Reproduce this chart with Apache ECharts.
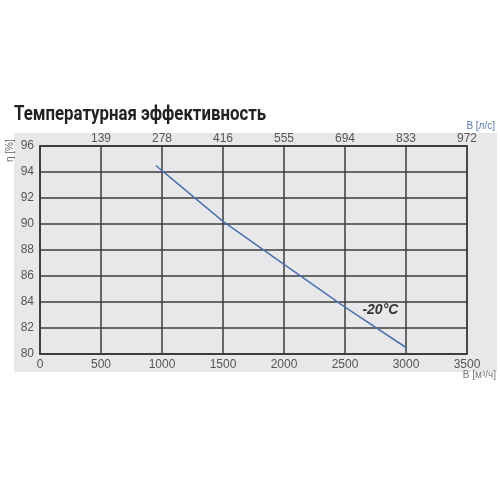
<!DOCTYPE html>
<html>
<head>
<meta charset="utf-8">
<script src="https://cdn.jsdelivr.net/npm/echarts@6/dist/echarts.min.js"></script>
<style>
  html, body { margin: 0; padding: 0; background: #fff; }
  #main { width: 500px; height: 500px; }
</style>
</head>
<body>
<div id="main"></div>
<script>
// расход, м3/ч -> эффективность, %
var flowM3h = [950, 1000, 1500, 2000, 2500, 3000];
var efficiency = [94.5, 94.1, 90.2, 86.9, 83.6, 80.5];
var topLabels = ['', '139', '278', '416', '555', '694', '833', '972'];
var seriesName = '-20°C';

var myChart = echarts.init(document.getElementById('main'));

var lineData = flowM3h.map(function (x, i) { return [x, efficiency[i]]; });
var labelFont = 'Liberation Sans, sans-serif';

var option = {
    animation: false,
    graphic: [
        {
            type: 'rect',
            z: -10,
            shape: { x: 14, y: 133, width: 483, height: 239 },
            style: { fill: '#e8e8ea' }
        },
        {
            type: 'text',
            x: 14,
            y: 105,
            scaleX: 0.84,
            style: {
                text: 'Температурная эффективность',
                fontFamily: 'Roboto, sans-serif',
                fontSize: 20,
                fontWeight: 'bold',
                fill: '#222'
            }
        },
        {
            type: 'text',
            x: 5,
            y: 162,
            rotation: Math.PI / 2,
            style: { text: 'η [%]', fontSize: 10, fontFamily: labelFont, fill: '#666' }
        },
        {
            type: 'text',
            x: 495,
            y: 121,
            style: { text: 'B [л/с]', fontSize: 10, fontFamily: labelFont, fill: '#5a7aa8', align: 'right' }
        },
        {
            type: 'text',
            x: 496,
            y: 370,
            style: { text: 'B [м³/ч]', fontSize: 10, fontFamily: labelFont, fill: '#777', align: 'right' }
        }
    ],
    grid: {
        left: 40,
        right: 33,
        top: 146,
        bottom: 146,
        show: true,
        borderColor: '#3c3c3c',
        borderWidth: 1.5,
        backgroundColor: 'transparent'
    },
    xAxis: [
        {
            type: 'value',
            position: 'bottom',
            min: 0,
            max: 3500,
            interval: 500,
            axisLine: { show: true, lineStyle: { color: '#3c3c3c', width: 1.5 } },
            axisTick: { show: false },
            axisLabel: {
                color: '#555', fontSize: 12, margin: 5, fontFamily: labelFont,
                formatter: function (v) { return String(v); }
            },
            splitLine: { show: true, lineStyle: { color: '#3c3c3c', width: 1.5 } }
        },
        {
            type: 'value',
            position: 'top',
            min: 0,
            max: 3500,
            interval: 500,
            axisLine: { show: true, lineStyle: { color: '#3c3c3c', width: 1.5 } },
            axisTick: { show: false },
            axisLabel: {
                color: '#555',
                fontSize: 12,
                margin: 1,
                fontFamily: labelFont,
                formatter: function (v) { return topLabels[Math.round(v / 500)]; }
            },
            splitLine: { show: false }
        }
    ],
    yAxis: {
        type: 'value',
        min: 80,
        max: 96,
        interval: 2,
        axisLine: { show: true, lineStyle: { color: '#3c3c3c', width: 1.5 } },
        axisTick: { show: false },
        axisLabel: { color: '#555', fontSize: 12, margin: 6, fontFamily: labelFont },
        splitLine: { show: true, lineStyle: { color: '#3c3c3c', width: 1.5 } }
    },
    series: [
        {
            name: seriesName,
            type: 'line',
            xAxisIndex: 0,
            data: lineData,
            symbol: 'none',
            lineStyle: { color: '#4a72ad', width: 1.5 },
            markPoint: {
                symbol: 'circle',
                symbolSize: 0,
                data: [{ coord: [2790, 83.4] }],
                label: {
                    show: true,
                    formatter: seriesName,
                    fontSize: 14,
                    fontWeight: 'bold',
                    fontStyle: 'italic',
                    color: '#333',
                    fontFamily: labelFont
                }
            }
        }
    ]
};

myChart.setOption(option);
</script>
</body>
</html>
